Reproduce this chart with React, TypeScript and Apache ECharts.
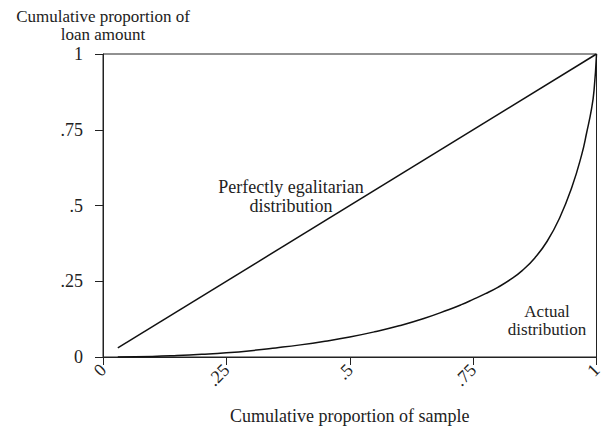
import React, { useEffect, useRef } from "react";
import * as echarts from "echarts";

const xTicks = [0, 0.25, 0.5, 0.75, 1];
const xTickLabels = ["0", ".25", ".5", ".75", "1"];
const yTicks = [0, 0.25, 0.5, 0.75, 1];
const yTickLabels = ["0", ".25", ".5", ".75", "1"];

const equalityX = [0.03, 1];
const equalityY = [0.03, 1];

const lorenzX = [0.03, 0.1, 0.15, 0.2, 0.25, 0.3, 0.35, 0.4, 0.45, 0.5, 0.55, 0.6, 0.65, 0.7, 0.725, 0.75, 0.775, 0.8, 0.825, 0.85, 0.875, 0.9, 0.925, 0.95, 0.97, 0.98, 0.99, 0.995, 1.0];
const lorenzY = [0, 0.002, 0.005, 0.009, 0.014, 0.021, 0.03, 0.04, 0.052, 0.066, 0.083, 0.103, 0.127, 0.156, 0.172, 0.19, 0.209, 0.23, 0.255, 0.286, 0.327, 0.382, 0.458, 0.56, 0.668, 0.74, 0.82, 0.88, 1.0];

const FONT = "Liberation Serif";
const FS = 18;

function labelFor(v: number, ticks: number[], labels: string[]) {
  for (let i = 0; i < ticks.length; i++) {
    if (Math.abs(ticks[i] - v) < 1e-6) return labels[i];
  }
  return "";
}

function txt(x: number, y: number, text: string, fontSize: number, lineHeight: number) {
  return {
    type: "text",
    x,
    y,
    style: {
      text,
      fontFamily: FONT,
      fontSize,
      lineHeight,
      fill: "#222",
      align: "center",
      verticalAlign: "middle",
    },
  };
}

export default function App() {
  const ref = useRef<HTMLDivElement>(null);
  useEffect(() => {
    if (!ref.current) return;
    const chart = echarts.init(ref.current, undefined, { renderer: "svg" });
    chart.setOption({
      animation: false,
      backgroundColor: "#ffffff",
      textStyle: { fontFamily: FONT },
      grid: {
        left: 103,
        right: 2,
        top: 54,
        bottom: 67,
        show: true,
        borderColor: "#222",
        borderWidth: 1,
        backgroundColor: "transparent",
      },
      xAxis: {
        type: "value",
        min: 0,
        max: 1,
        interval: 0.25,
        name: "Cumulative proportion of sample",
        nameLocation: "middle",
        nameGap: 50,
        nameTextStyle: { fontFamily: FONT, fontSize: FS, color: "#222" },
        axisLine: { show: true, lineStyle: { color: "#222", width: 1 } },
        axisTick: { show: true, length: 8, lineStyle: { color: "#222" } },
        splitLine: { show: false },
        axisLabel: {
          rotate: 45,
          margin: 10,
          fontFamily: FONT,
          fontSize: FS,
          color: "#222",
          showMinLabel: true,
          showMaxLabel: true,
          formatter: (v: number) => labelFor(v, xTicks, xTickLabels),
        },
      },
      yAxis: {
        type: "value",
        min: 0,
        max: 1,
        interval: 0.25,
        axisLine: { show: true, lineStyle: { color: "#222", width: 1 } },
        axisTick: { show: true, length: 8, lineStyle: { color: "#222" } },
        splitLine: { show: false },
        axisLabel: {
          margin: 20,
          fontFamily: FONT,
          fontSize: FS,
          color: "#222",
          showMinLabel: true,
          showMaxLabel: true,
          formatter: (v: number) => labelFor(v, yTicks, yTickLabels),
        },
      },
      graphic: [
        txt(103, 25, "Cumulative proportion of\nloan amount", 17, 18),
        txt(291, 196, "Perfectly egalitarian\ndistribution", 18, 19),
        txt(547, 320, "Actual\ndistribution", 17, 18),
      ],
      series: [
        {
          type: "line",
          data: equalityX.map((x, i) => [x, equalityY[i]]),
          showSymbol: false,
          lineStyle: { color: "#111", width: 1.5 },
        },
        {
          type: "line",
          data: lorenzX.map((x, i) => [x, lorenzY[i]]),
          showSymbol: false,
          smooth: 0.5,
          lineStyle: { color: "#111", width: 1.5 },
        },
      ],
    });
    return () => chart.dispose();
  }, []);
  return <div ref={ref} style={{ width: 605, height: 430, position: "absolute", left: 0, top: 0 }} />;
}
